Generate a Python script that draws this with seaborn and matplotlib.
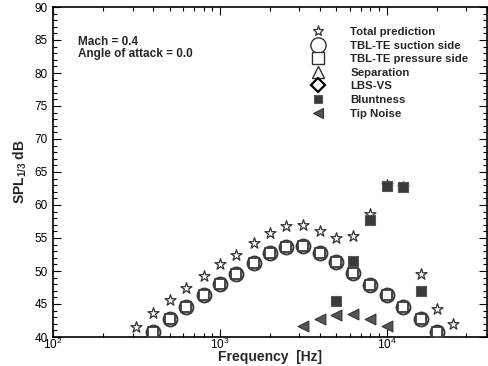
import matplotlib
matplotlib.use("Agg")
import matplotlib.pyplot as plt
from matplotlib.lines import Line2D
from matplotlib.ticker import LogLocator, MultipleLocator, NullFormatter
import seaborn as sns

# ---- data ----
freq_total = [315, 400, 500, 630, 800, 1000, 1250, 1600, 2000, 2500, 3150,
              4000, 5000, 6300, 8000, 10000, 12500, 16000, 20000, 25000]
spl_total = [41.5, 43.7, 45.6, 47.4, 49.2, 51.0, 52.5, 54.2, 55.7, 56.8, 56.9,
             56.0, 55.0, 55.3, 58.6, 63.0, 62.8, 49.6, 44.3, 41.9]

freq_tbl = [400, 500, 630, 800, 1000, 1250, 1600, 2000, 2500, 3150,
            4000, 5000, 6300, 8000, 10000, 12500, 16000, 20000]
spl_suction = [40.7, 42.7, 44.5, 46.3, 48.0, 49.5, 51.2, 52.7, 53.7, 53.8,
               52.8, 51.3, 49.7, 47.9, 46.4, 44.6, 42.7, 40.8]
spl_pressure = [40.7, 42.7, 44.5, 46.3, 48.0, 49.5, 51.2, 52.7, 53.7, 53.8,
                52.8, 51.3, 49.7, 47.9, 46.4, 44.6, 42.7, 40.8]

freq_blunt = [5000, 6300, 8000, 10000, 12500, 16000]
spl_blunt = [45.5, 51.5, 57.8, 62.9, 62.7, 47.0]

freq_tip = [3150, 4000, 5000, 6300, 8000, 10000]
spl_tip = [41.7, 42.8, 43.4, 43.5, 42.8, 41.6]

legend_labels = ["Total prediction", "TBL-TE suction side", "TBL-TE pressure side",
                 "Separation", "LBS-VS", "Bluntness", "Tip Noise"]

# ---- style ----
sns.set_style("ticks")
plt.rcParams["font.family"] = ["Liberation Sans", "DejaVu Sans"]
plt.rcParams["mathtext.fontset"] = "custom"
plt.rcParams["mathtext.rm"] = "Liberation Sans"
plt.rcParams["mathtext.bf"] = "Liberation Sans:bold"
plt.rcParams["mathtext.it"] = "Liberation Sans:italic"

fig = plt.figure(figsize=(4.89, 3.66), dpi=100)
ax = fig.add_axes([53 / 489, 1 - 337 / 366, 434 / 489, 330 / 366])

edge = "#333333"

sns.scatterplot(x=freq_total, y=spl_total, marker="*", s=70, color="white",
                edgecolor=edge, linewidth=0.9, ax=ax, zorder=3)
sns.scatterplot(x=freq_tbl, y=spl_suction, marker="o", s=100, color="white",
                edgecolor="#3a3a3a", linewidth=1.4, ax=ax, zorder=4)
sns.scatterplot(x=freq_tbl, y=spl_pressure, marker="s", s=48, color="white",
                edgecolor="#3a3a3a", linewidth=1.3, ax=ax, zorder=5)
sns.scatterplot(x=freq_blunt, y=spl_blunt, marker="s", s=45, color="#3a3a3a",
                edgecolor="#555555", linewidth=0.8, ax=ax, zorder=6)
sns.scatterplot(x=freq_tip, y=spl_tip, marker="<", s=60, color="#555555",
                edgecolor="#333333", linewidth=0.8, ax=ax, zorder=6)

ax.set_xscale("log")
ax.set_xlim(100, 40000)
ax.set_ylim(40, 90)
ax.yaxis.set_major_locator(MultipleLocator(5))
ax.yaxis.set_minor_locator(MultipleLocator(1))
ax.xaxis.set_major_locator(LogLocator(base=10, numticks=10))
ax.xaxis.set_minor_locator(LogLocator(base=10, subs=range(2, 10), numticks=20))
ax.xaxis.set_minor_formatter(NullFormatter())

ax.tick_params(which="both", direction="in", top=True, right=True,
               colors="black", labelsize=8.5, width=0.8)
ax.tick_params(which="major", length=6)
ax.tick_params(which="minor", length=3)
ax.tick_params(axis="x", which="both", pad=0)
ax.tick_params(axis="y", which="both", pad=4)
for s in ax.spines.values():
    s.set_linewidth(1.2)
    s.set_color("black")

ax.set_xlabel("Frequency  [Hz]", fontsize=10, fontweight="bold")
ax.xaxis.set_label_coords(0.5, -0.040)
ax.set_ylabel(r"SPL$_{\mathbf{1/3}}$ dB", fontsize=10, fontweight="bold", labelpad=4)

ax.text(0.058, 0.912, "Mach = 0.4\nAngle of attack = 0.0", transform=ax.transAxes,
        fontsize=8.5, fontweight="bold", va="top", ha="left", linespacing=1.05)

handles = [
    Line2D([], [], ls="", marker="*", ms=8, mfc="white", mec=edge, mew=0.9),
    Line2D([], [], ls="", marker="o", ms=11, mfc="white", mec=edge, mew=1.0),
    Line2D([], [], ls="", marker="s", ms=8, mfc="white", mec=edge, mew=1.0),
    Line2D([], [], ls="", marker="^", ms=9, mfc="white", mec=edge, mew=1.0),
    Line2D([], [], ls="", marker="D", ms=7, mfc="white", mec="black", mew=1.6),
    Line2D([], [], ls="", marker="s", ms=6, mfc="#3a3a3a", mec="#555555", mew=0.8),
    Line2D([], [], ls="", marker="<", ms=7, mfc="#555555", mec="#333333", mew=0.8),
]
leg = ax.legend(handles, legend_labels, loc="upper left", bbox_to_anchor=(0.585, 0.957),
                frameon=False, handlelength=1.0, handletextpad=2.3, labelspacing=0.32,
                borderpad=0, prop={"weight": "bold", "size": 8.2})

fig.savefig("out.png", dpi=100)
